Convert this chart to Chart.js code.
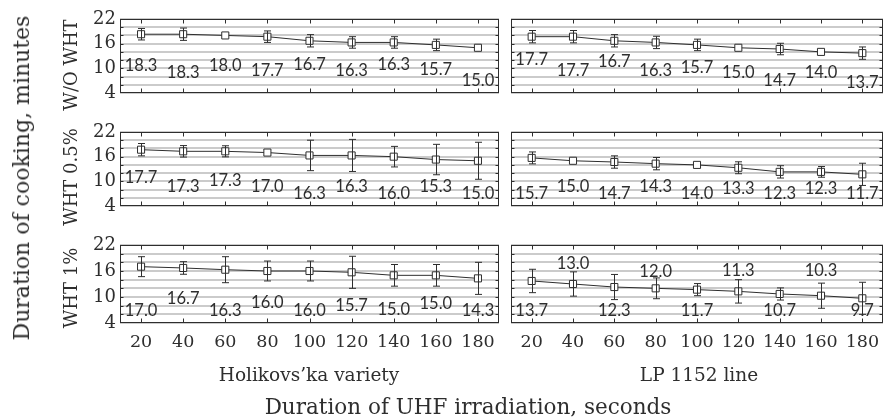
<!DOCTYPE html>
<html>
<head>
<meta charset="utf-8">
<script src="https://cdn.jsdelivr.net/npm/chart.js@4.4.1/dist/chart.umd.min.js"></script>
<style>
  body { margin: 0; background: #fff; width: 889px; height: 420px; overflow: hidden; position: relative; font-family: 'DejaVu Serif', serif; color: #2e2e2e; }
  canvas { position: absolute; }
  .t { position: absolute; white-space: nowrap; transform: translate(-50%, -50%); line-height: 1; }
  .rot { transform: translate(-50%, -50%) rotate(-90deg); }
</style>
</head>
<body>
<canvas id="p1" width="475" height="90" style="left:30px;top:9px"></canvas>
<canvas id="p2" width="384" height="90" style="left:505px;top:9px"></canvas>
<canvas id="p3" width="475" height="90" style="left:30px;top:122px"></canvas>
<canvas id="p4" width="384" height="90" style="left:505px;top:122px"></canvas>
<canvas id="p5" width="475" height="130" style="left:30px;top:235px"></canvas>
<canvas id="p6" width="384" height="130" style="left:505px;top:235px"></canvas>

<div class="t rot" style="left:22px;top:178px;font-size:22px">Duration of cooking, minutes</div>
<div class="t rot" style="left:71px;top:65px;font-size:18px">W/O WHT</div>
<div class="t rot" style="left:71px;top:177px;font-size:18px">WHT 0.5%</div>
<div class="t rot" style="left:71px;top:288px;font-size:18px">WHT 1%</div>
<div class="t" style="left:309px;top:375px;font-size:18.5px">Holikovs’ka variety</div>
<div class="t" style="left:699px;top:375px;font-size:18.5px">LP 1152 line</div>
<div class="t" style="left:468px;top:407px;font-size:21.5px">Duration of UHF irradiation, seconds</div>

<script>
// irradiation time, s
const durations = ['20', '40', '60', '80', '100', '120', '140', '160', '180'];
const yTickLabels = [4, 10, 16, 22];

// cooking time, min (mean and +/- error)
const holikovsNoWht = [18.3, 18.3, 18.0, 17.7, 16.7, 16.3, 16.3, 15.7, 15.0];
const holikovsNoWhtErr = [1.4, 1.5, 0, 1.4, 1.5, 1.4, 1.4, 1.4, 0];
const lineNoWht = [17.7, 17.7, 16.7, 16.3, 15.7, 15.0, 14.7, 14.0, 13.7];
const lineNoWhtErr = [1.5, 1.5, 1.5, 1.5, 1.4, 0, 1.4, 0, 1.5];

const holikovsWht05 = [17.7, 17.3, 17.3, 17.0, 16.3, 16.3, 16.0, 15.3, 15.0];
const holikovsWht05Err = [1.5, 1.4, 1.35, 0, 3.7, 3.9, 2.5, 3.7, 4.5];
const lineWht05 = [15.7, 15.0, 14.7, 14.3, 14.0, 13.3, 12.3, 12.3, 11.7];
const lineWht05Err = [1.45, 0, 1.5, 1.5, 0, 1.45, 1.5, 1.3, 2.7];

const holikovsWht1 = [17.0, 16.7, 16.3, 16.0, 16.0, 15.7, 15.0, 15.0, 14.3];
const holikovsWht1Err = [2.3, 1.45, 3.0, 2.3, 2.3, 3.7, 2.5, 2.5, 3.7];
const lineWht1 = [13.7, 13.0, 12.3, 12.0, 11.7, 11.3, 10.7, 10.3, 9.7];
const lineWht1Err = [2.7, 2.8, 2.9, 2.4, 1.4, 2.7, 1.4, 2.9, 3.7];

// where each value label sits, in axis units
const labelAtP1 = [10.7, 9.0, 10.6, 9.4, 10.8, 9.4, 10.8, 9.6, 6.9];
const labelAtP2 = [12.0, 9.4, 11.5, 9.4, 10.1, 9.0, 6.9, 9.0, 6.6];
const labelAtP3 = [10.8, 8.7, 10.1, 8.7, 7.0, 8.7, 6.9, 8.7, 7.0];
const labelAtP4 = [7.0, 8.7, 7.0, 8.7, 7.0, 8.1, 7.0, 8.1, 7.0];
const labelAtP5 = [6.9, 9.5, 6.9, 8.7, 6.9, 8.1, 7.1, 8.4, 6.9];
const labelAtP6 = [6.9, 17.6, 6.9, 15.8, 6.9, 16.0, 6.9, 16.0, 6.9];

const ink = '#2e2e2e';

// frame, inward ticks, error bars and value labels
const panelDecor = {
  id: 'panelDecor',
  beforeDatasetsDraw(chart) {
    const { ctx, chartArea: a, scales: { x, y } } = chart;
    const l = Math.round(a.left) + 0.5, r = Math.round(a.right) - 0.5;
    const t = Math.round(a.top) + 0.5, b = Math.round(a.bottom) - 0.5;
    ctx.save();
    ctx.strokeStyle = ink;
    ctx.lineWidth = 1;
    ctx.strokeRect(l, t, r - l, b - t);
    ctx.beginPath();
    durations.forEach((d, i) => {
      const px = Math.round(x.getPixelForValue(i)) + 0.5;
      ctx.moveTo(px, t); ctx.lineTo(px, t + 4);
      ctx.moveTo(px, b); ctx.lineTo(px, b - 4);
    });
    for (let v = 6; v < 22; v += 2) {
      const py = Math.round(y.getPixelForValue(v)) + 0.5;
      ctx.moveTo(l, py); ctx.lineTo(l + 3, py);
      ctx.moveTo(r, py); ctx.lineTo(r - 3, py);
    }
    ctx.stroke();
    ctx.restore();
  },
  afterDatasetsDraw(chart) {
    const { ctx, scales: { y } } = chart;
    const ds = chart.data.datasets[0];
    const meta = chart.getDatasetMeta(0);
    ctx.save();
    ctx.strokeStyle = ink;
    ctx.lineWidth = 1;
    ctx.beginPath();
    meta.data.forEach((pt, i) => {
      const e = ds.errors[i];
      if (!e) return;
      const px = Math.round(pt.x) + 0.5;
      const top = y.getPixelForValue(ds.data[i] + e);
      const bot = y.getPixelForValue(ds.data[i] - e);
      ctx.moveTo(px, top); ctx.lineTo(px, bot);
      ctx.moveTo(px - 3.5, top); ctx.lineTo(px + 3.5, top);
      ctx.moveTo(px - 3.5, bot); ctx.lineTo(px + 3.5, bot);
    });
    ctx.stroke();
    ctx.fillStyle = ink;
    ctx.font = '16.5px Lato';
    ctx.textAlign = 'center';
    ctx.textBaseline = 'middle';
    meta.data.forEach((pt, i) => {
      ctx.fillText(ds.data[i].toFixed(1), pt.x, y.getPixelForValue(ds.labelAt[i]));
    });
    ctx.restore();
  }
};

// tick label overflow must not shrink the plot area
function noOverflow(s) {
  s.paddingTop = 0;
  s.paddingBottom = 0;
  s.paddingLeft = 0;
  s.paddingRight = 0;
}

function makePanel(id, values, errors, labelAt, isLeft, isBottom) {
  new Chart(document.getElementById(id), {
    type: 'line',
    data: {
      labels: durations,
      datasets: [{
        data: values,
        errors: errors,
        labelAt: labelAt,
        borderColor: ink,
        borderWidth: 1,
        tension: 0,
        pointStyle: 'rect',
        pointRadius: 5,
        pointBackgroundColor: '#fff',
        pointBorderColor: ink,
        pointBorderWidth: 1
      }]
    },
    options: {
      responsive: false,
      animation: false,
      events: [],
      plugins: { legend: { display: false }, tooltip: { enabled: false } },
      layout: { padding: { top: 10, right: isLeft ? 6 : 1, bottom: isBottom ? 0 : 2, left: 0 } },
      scales: {
        x: {
          type: 'category',
          offset: true,
          display: isBottom,
          grid: { display: false, drawTicks: false },
          border: { display: false },
          ticks: { color: ink, font: { family: 'DejaVu Serif', size: 17.5 }, padding: 9, maxRotation: 0, autoSkip: false },
          afterFit: s => { noOverflow(s); if (isBottom) s.height = 42; }
        },
        y: {
          min: 4,
          max: 22,
          grid: { color: '#cbcbcb', lineWidth: 2, drawTicks: false },
          border: { display: false },
          ticks: {
            stepSize: 2,
            autoSkip: false,
            display: isLeft,
            padding: 4,
            color: ink,
            font: { family: 'DejaVu Serif', size: 18 },
            callback: v => yTickLabels.includes(v) ? String(v) : ''
          },
          afterFit: s => { noOverflow(s); s.width = isLeft ? 90 : 6; }
        }
      }
    },
    plugins: [panelDecor]
  });
}

makePanel('p1', holikovsNoWht, holikovsNoWhtErr, labelAtP1, true, false);
makePanel('p2', lineNoWht, lineNoWhtErr, labelAtP2, false, false);
makePanel('p3', holikovsWht05, holikovsWht05Err, labelAtP3, true, false);
makePanel('p4', lineWht05, lineWht05Err, labelAtP4, false, false);
makePanel('p5', holikovsWht1, holikovsWht1Err, labelAtP5, true, true);
makePanel('p6', lineWht1, lineWht1Err, labelAtP6, false, true);
</script>
</body>
</html>
